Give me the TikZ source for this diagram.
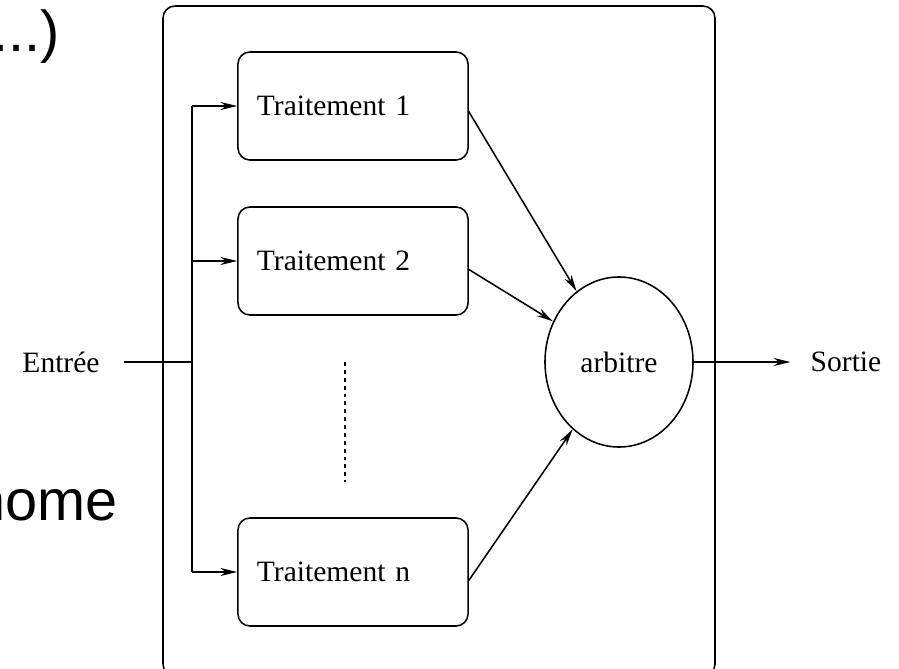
\documentclass[tikz,border=0pt]{standalone}
\usepackage{fontspec}
\setmainfont{Liberation Serif}
\newfontfamily\slidefont{Liberation Sans}
\usetikzlibrary{positioning,arrows.meta,shapes.geometric}

\begin{document}
\begin{tikzpicture}[
  x=0.025cm, y=-0.025cm,
  every node/.style={font=\fontsize{21}{24}\selectfont},
  proc/.style={draw=black, line width=1.1pt, rounded corners=3mm, minimum width=5.75cm, minimum height=2.7cm, text width=4.8cm, inner xsep=0.475cm, align=left},
  arb/.style={draw=black, line width=1.1pt, ellipse, minimum width=3.7cm, minimum height=4.25cm, inner sep=0pt},
  arr/.style={-{Stealth[length=4.2mm, width=2mm]}, line width=1.1pt, draw=black},
  ln/.style={line width=1.1pt, draw=black},
  slide/.style={font=\slidefont\fontsize{41}{48}\selectfont, inner sep=0pt}
]
\useasboundingbox (0,0) rectangle (899,669);
\clip (0,0) rectangle (899,669);

% Slide text cut by the screenshot
\node[slide, anchor=base east] (dots) at (60,52) {...)};
\node[slide, anchor=base east] (nome) at (118,520) {nome};

% Outer system box
\draw[ln, rounded corners=3mm] (163,6) rectangle (715,676);

% Processing chains
\node[proc] (t1) at (353,106) {Traitement 1};
\node[proc] (t2) at (353,261) {Traitement 2};
\node[proc] (tn) at (353,572) {Traitement n};
\draw[ln, dash pattern=on 2.8pt off 2.8pt] (345,362) -- (345,482);

% Voter
\node[arb] (vote) at (619,362) {arbitre};

% Input and output
\node[inner xsep=0.6cm] (entree) at (61,362) {Entrée};
\node[inner xsep=0.5cm] (sortie) at (846,362) {Sortie};
\coordinate (bus) at (192,362);

% Input bus
\draw[ln] (entree) -- (bus);
\draw[ln] (bus |- t1) -- (bus |- tn);
\draw[arr] (bus |- t1) -- (t1.west);
\draw[arr] (bus |- t2) -- (t2.west);
\draw[arr] (bus |- tn) -- (tn.west);

% Results to the voter
\draw[arr] ([yshift=-4]t1.east) -- (vote);
\draw[arr] ([yshift=-6]t2.east) -- (vote);
\draw[arr] ([yshift=-6]tn.east) -- (vote);
\draw[arr] (vote) -- (sortie);
\end{tikzpicture}
\end{document}
